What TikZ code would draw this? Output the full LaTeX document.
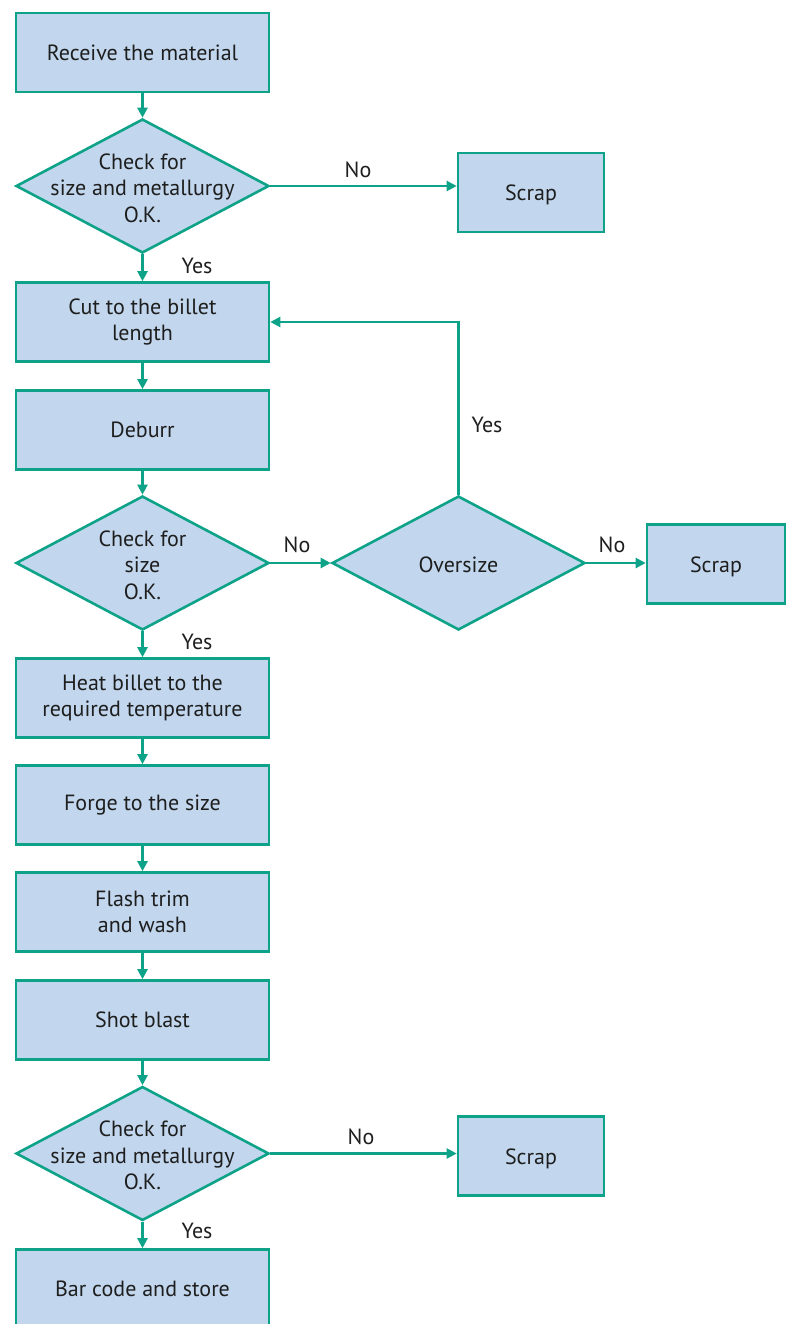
\documentclass[tikz,border=0pt]{standalone}
\usepackage{fontspec}
\setmainfont{PT Sans}
\usetikzlibrary{shapes.geometric,arrows.meta}
\definecolor{teal1}{RGB}{14,163,136}
\definecolor{fillb}{RGB}{194,215,238}
\definecolor{txt}{RGB}{30,30,30}
\begin{document}
\begin{tikzpicture}[x=1pt,y=-1pt,
  every node/.style={text=txt,font=\fontsize{22}{26.5}\selectfont},
  box/.style={draw=teal1,fill=fillb,line width=2.6pt,minimum width=253pt,minimum height=79pt,inner sep=0pt,align=center},
  sbox/.style={draw=teal1,fill=fillb,line width=2.6pt,minimum width=146pt,minimum height=79pt,inner sep=0pt,align=center,text depth=0pt,text height=17pt},
  dia/.style={draw=teal1,fill=fillb,line width=2.6pt,diamond,shape aspect=1.9,minimum width=253pt,minimum height=134pt,inner sep=0pt},
  dlab/.style={align=center,font=\fontsize{22}{26.5}\selectfont,text=txt,yshift=-2pt},
  conn/.style={draw=teal1,line width=2.2pt,-{Triangle[length=10pt,width=10pt]}},
  lbl/.style={inner sep=0pt}
]
\useasboundingbox (0,0) rectangle (786,1324);
\node[box] (b1) at (142.5,52.5) {Receive the material};
\node[dia,label={[dlab]center:Check for\\size and metallurgy\\O.K.}] (d1) at (142.5,186) {};
\node[sbox] (s1) at (531,192.5) {Scrap};
\node[box] (b2) at (142.5,322) {Cut to the billet\\length};
\node[box] (b3) at (142.5,430) {Deburr};
\node[dia,label={[dlab]center:Check for\\size\\O.K.}] (d2) at (142.5,563) {};
\node[dia,label={[dlab]center:Oversize}] (d3) at (458.5,563) {};
\node[sbox,minimum width=138pt] (s2) at (716,564) {Scrap};
\node[box] (b4) at (142.5,698) {Heat billet to the\\required temperature};
\node[box] (b5) at (142.5,805) {Forge to the size};
\node[box] (b6) at (142.5,912) {Flash trim\\and wash};
\node[box] (b7) at (142.5,1020) {Shot blast};
\node[dia,label={[dlab]center:Check for\\size and metallurgy\\O.K.}] (d4) at (142.5,1153.5) {};
\node[sbox] (s3) at (531,1156) {Scrap};
\node[box] (b8) at (142.5,1289) {Bar code and store};

\draw[conn] (b1.south) -- (d1.north);
\draw[conn] (d1.east) -- (s1.west |- d1.east);
\draw[conn] (d1.south) -- (b2.north);
\draw[conn] (b2.south) -- (b3.north);
\draw[conn] (b3.south) -- (d2.north);
\draw[conn] (d2.east) -- (d3.west);
\draw[conn] (d3.east) -- (s2.west |- d3.east);
\draw[conn] (d3.north) -- (d3.north |- b2.east) -- (b2.east);
\draw[conn] (d2.south) -- (b4.north);
\draw[conn] (b4.south) -- (b5.north);
\draw[conn] (b5.south) -- (b6.north);
\draw[conn] (b6.south) -- (b7.north);
\draw[conn] (b7.south) -- (d4.north);
\draw[conn] (d4.east) -- (s3.west |- d4.east);
\draw[conn] (d4.south) -- (b8.north);

\node[lbl] (n1) at (358,170) {No};
\node[lbl] (y1) at (197,266) {Yes};
\node[lbl] (n2) at (297,545) {No};
\node[lbl] (y2) at (487,425) {Yes};
\node[lbl] (n3) at (612,545) {No};
\node[lbl] (y3) at (197,642) {Yes};
\node[lbl] (n4) at (361,1137) {No};
\node[lbl] (y4) at (197,1231) {Yes};
\end{tikzpicture}
\end{document}
